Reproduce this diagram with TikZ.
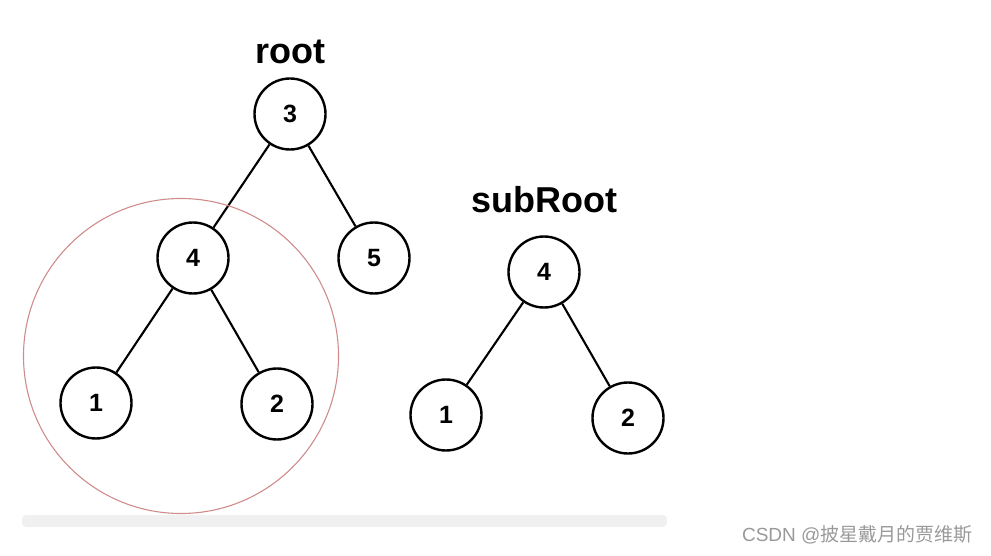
\documentclass[tikz,border=0pt]{standalone}
\usepackage{fontspec}
\setmainfont{Liberation Sans}
\newfontfamily\cjk{Noto Sans CJK SC}
\usetikzlibrary{positioning}
\definecolor{ringred}{HTML}{D08C8C}
\definecolor{barcol}{HTML}{F0F0F0}
\definecolor{markgray}{HTML}{999999}

\begin{document}
\begin{tikzpicture}[
  x=1pt,
  y=-1pt,
  tnode/.style={circle, draw=black, line width=2.4pt, minimum size=71pt, inner sep=0pt, font=\fontsize{25}{25}\selectfont\bfseries},
  link/.style={line width=2.1pt},
  tname/.style={font=\fontsize{36}{36}\selectfont\bfseries},
  ring/.style={circle, draw=ringred, line width=1.1pt, minimum size=315pt, inner sep=0pt},
  wmark/.style={font=\fontsize{19}{19}\selectfont, text=markgray}
]
\useasboundingbox (0,0) rectangle (991,556);
\fill[barcol, rounded corners=4pt] (22,515) rectangle (667,527);

\node[tname] (rootlbl) at (290,52) {root};
\node[tnode] (r3) at (290,114) {3};
\node[tnode] (r4) at (193,258) {4};
\node[tnode] (r5) at (374,258) {5};
\node[tnode] (r1) at (96,403) {1};
\node[tnode] (r2) at (277,404) {2};
\draw[link] (r3) -- (r4);
\draw[link] (r3) -- (r5);
\draw[link] (r4) -- (r1);
\draw[link] (r4) -- (r2);
\node[ring] (focus) at (181,356) {};

\node[tname] (sublbl) at (544,200) {subRoot};
\node[tnode] (s4) at (544,272) {4};
\node[tnode] (s1) at (446,415) {1};
\node[tnode] (s2) at (628,418) {2};
\draw[link] (s4) -- (s1);
\draw[link] (s4) -- (s2);

\node[wmark, anchor=east] (wm) at (976,535) {CSDN @{\cjk 披星戴月的贾维斯}};
\end{tikzpicture}
\end{document}
